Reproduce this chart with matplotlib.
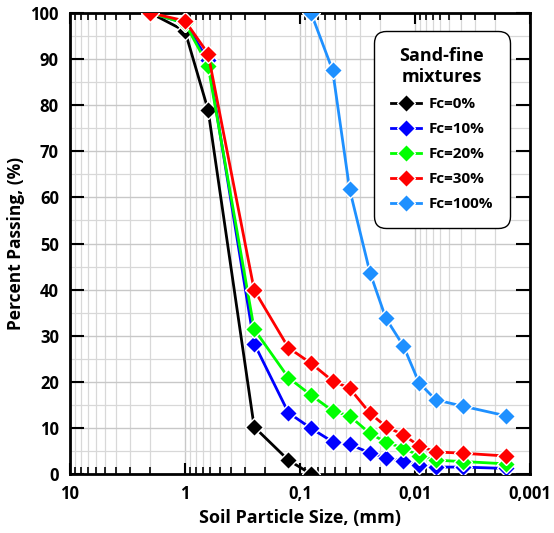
import matplotlib
matplotlib.use("Agg")
import matplotlib.pyplot as plt
from matplotlib.ticker import LogLocator, FixedLocator, FuncFormatter, MultipleLocator
import numpy as np

plt.rcParams['font.family'] = ['Open Sans', 'DejaVu Sans']
plt.rcParams['font.weight'] = 'bold'

sizes = [2.0, 1.0, 0.63, 0.25, 0.126, 0.08, 0.052, 0.037, 0.0246, 0.0179,
         0.0126, 0.0092, 0.0066, 0.0038, 0.0016]

fc0 = [100, 96.1, 79.0, 10.2, 3.0, 0.0]
fc10 = [100, 97.8, 89.8, 28.3, 13.3, 9.9, 7.0, 6.4, 4.6, 3.5, 2.8, 2.0, 1.5, 1.5, 1.2]
fc20 = [100, 97.8, 88.6, 31.4, 20.9, 17.1, 13.7, 12.6, 8.8, 6.9, 5.6, 4.0, 3.0, 2.7, 2.2]
fc30 = [100, 98.3, 91.2, 39.9, 27.4, 24.0, 20.2, 18.6, 13.2, 10.3, 8.5, 6.1, 4.8, 4.5, 3.9]
fines_sizes = [0.08, 0.052, 0.037, 0.0246, 0.0179, 0.0126, 0.0092, 0.0066, 0.0038, 0.0016]
fc100 = [100, 87.6, 61.8, 43.7, 33.8, 27.8, 19.8, 16.1, 14.7, 12.6]

series = [
    ("Fc=0%", sizes[:len(fc0)], fc0, "#000000"),
    ("Fc=10%", sizes, fc10, "#0000ff"),
    ("Fc=20%", sizes, fc20, "#00ff00"),
    ("Fc=30%", sizes, fc30, "#ff0000"),
    ("Fc=100%", fines_sizes, fc100, "#1e90ff"),
]

xticks = [10, 1, 0.1, 0.01, 0.001]
xticklabels = ["10", "1", "0,1", "0,01", "0,001"]

fig = plt.figure(figsize=(5.54, 5.33), dpi=100)
ax = fig.add_axes([0.1264, 0.1107, 0.830, 0.8649])

for label, xs, ys, c in series:
    ax.plot(xs, ys, color=c, lw=2, marker='D', ms=9, mfc=c, mec='white',
            mew=1.0, label=label, zorder=3)

ax.set_xscale('log')
ax.set_xlim(10, 0.001)
ax.set_ylim(0, 100)

ax.xaxis.set_major_locator(FixedLocator(xticks))
ax.xaxis.set_major_formatter(FuncFormatter(lambda v, p: xticklabels[xticks.index(min(xticks, key=lambda t: abs(np.log10(t) - np.log10(v))))]))
ax.xaxis.set_minor_locator(LogLocator(base=10, subs=np.arange(2, 10), numticks=20))
ax.xaxis.set_minor_formatter(FuncFormatter(lambda v, p: ""))
ax.yaxis.set_major_locator(MultipleLocator(10))
ax.yaxis.set_minor_locator(MultipleLocator(5))

ax.grid(True, which='major', color='#c8c8c8', lw=1.0, zorder=0)
ax.grid(True, which='minor', color='#d8d8d8', lw=0.9, zorder=0)
ax.set_axisbelow(True)

ax.tick_params(axis='both', which='major', direction='in', length=10, width=1.5,
               top=True, right=True, labelsize=12, pad=8)
ax.tick_params(axis='x', which='major', length=8)
ax.tick_params(axis='x', which='minor', direction='in', length=5, width=1.2,
               top=True, bottom=True)
ax.tick_params(axis='y', which='minor', length=0)
for s in ax.spines.values():
    s.set_linewidth(2)

for t in ax.get_xticklabels() + ax.get_yticklabels():
    t.set_fontweight('bold')

ax.set_xlabel("Soil Particle Size, (mm)", fontsize=13, fontweight='bold', labelpad=4)
ax.set_ylabel("Percent Passing, (%)", fontsize=12.5, fontweight='bold', labelpad=4)

leg = ax.legend(title="Sand-fine\nmixtures", loc='upper right',
                bbox_to_anchor=(0.952, 0.957), borderaxespad=0.0,
                frameon=True, fancybox=True,
                edgecolor='black', title_fontsize=13,
                prop={'weight': 'bold', 'size': 11}, handlelength=2.0,
                handletextpad=0.5, borderpad=0.95, labelspacing=0.72,
                framealpha=1)
leg.get_title().set_fontweight('bold')
leg.get_title().set_multialignment('center')
leg.get_frame().set_linewidth(1.0)
leg.get_frame().set_boxstyle('round,pad=0.15,rounding_size=0.8')

fig.savefig("out.png", dpi=100)
